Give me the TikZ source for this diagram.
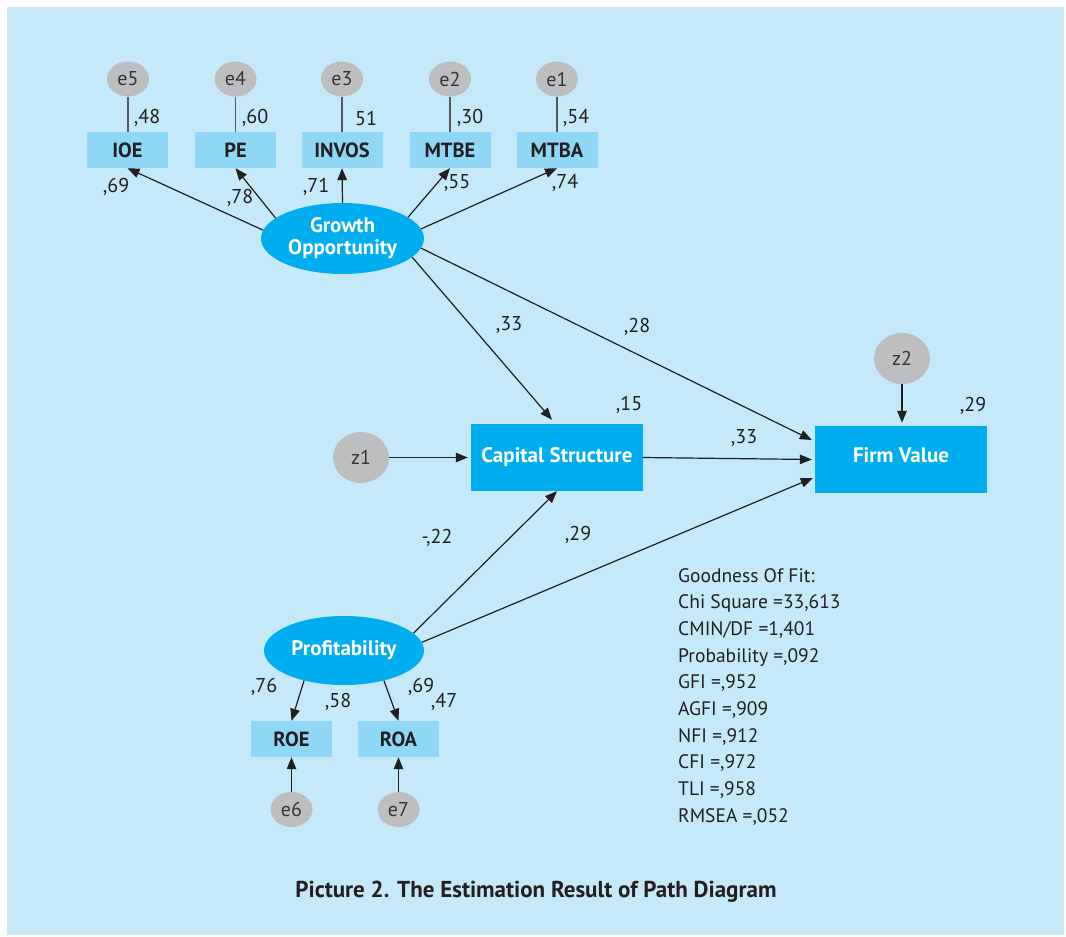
\documentclass[tikz,border=0pt]{standalone}
\usepackage{fontspec}
\setmainfont{PT Sans}
\usetikzlibrary{arrows.meta,calc,shapes.geometric}
\definecolor{panel}{HTML}{C5E9F8}
\definecolor{indc}{HTML}{8ED8F6}
\definecolor{cyanbox}{HTML}{00AEEF}
\definecolor{errgray}{HTML}{BDBEC0}
\definecolor{ink}{HTML}{231F20}
\begin{document}
\begin{tikzpicture}[x=1pt,y=-1pt,
  err/.style={ellipse, fill=errgray, minimum width=42pt, minimum height=35pt, inner sep=0pt, font=\fontsize{20}{22}\selectfont, text=ink!90},
  zerr/.style={err, minimum width=56pt, minimum height=51pt},
  indbox/.style={rectangle, fill=indc, minimum width=81pt, minimum height=36pt, inner sep=0pt, font=\bfseries\fontsize{20.5}{22}\selectfont, text=ink},
  bigbox/.style={rectangle, fill=cyanbox, minimum width=172pt, minimum height=67pt, inner sep=0pt, font=\bfseries\fontsize{21}{22}\selectfont, text=white},
  lat/.style={ellipse, fill=cyanbox, inner sep=0pt, font=\bfseries\fontsize{21}{22}\selectfont, text=white, align=center},
  lbl/.style={font=\fontsize{20}{22}\selectfont, text=ink, inner sep=0pt},
  fitt/.style={font=\fontsize{19.5}{22}\selectfont, text=ink, inner sep=0pt, anchor=base west},
  arr/.style={draw=ink, line width=1.2pt, -{Triangle[length=12pt,width=9.5pt]}},
  ln/.style={draw=ink!75, line width=1.2pt}
]
\useasboundingbox (0,0) rectangle (1066,937);
\fill[white] (0,0) rectangle (1066,937);
\fill[panel] (7,7) rectangle (1064,935);

% error terms top
\node[err] (e5) at (128,79) {e5};
\node[err] (e4) at (235.5,79) {e4};
\node[err] (e3) at (342,79) {e3};
\node[err] (e2) at (450,79) {e2};
\node[err] (e1) at (557,79) {e1};

% indicators top
\node[indbox] (ioe) at (127.5,150) {IOE};
\node[indbox] (pe) at (235.5,150) {PE};
\node[indbox] (invos) at (342,150) {INVOS};
\node[indbox] (mtbe) at (450,150) {MTBE};
\node[indbox] (mtba) at (557,150) {MTBA};

% latent
\node[lat, minimum width=163pt, minimum height=71pt] (go) at (342.5,238.5) {Growth\\Opportunity};
\node[lat, minimum width=160pt, minimum height=69pt] (pr) at (344,650.5) {Profitability};

% endogenous
\node[bigbox] (cs) at (557,457.5) {Capital Structure};
\node[bigbox, text height=15pt, text depth=10pt] (fv) at (901,459.5) {Firm Value};
\node[zerr] (z1) at (361,457.5) {z1};
\node[zerr] (z2) at (902,358.5) {z2};

% indicators bottom
\node[indbox] (roe) at (291.5,739) {ROE};
\node[indbox] (roa) at (398.5,739) {ROA};
\node[err] (e6) at (291.5,809.5) {e6};
\node[err] (e7) at (398.5,809.5) {e7};

% error lines top
\foreach \e/\b in {e5/ioe,e4/pe,e3/invos,e2/mtbe,e1/mtba}
  \draw[ln] (\e.south) -- (\e.south |- \b.north);

% loadings top
\draw[arr] (go.174) -- (ioe.south);
\draw[arr] (go.163) -- (pe.south);
\draw[arr] (go.north) -- (invos.south);
\draw[arr] (go.18) -- (mtbe.south);
\draw[arr] (go.7) -- (mtba.south);

% structural paths
\draw[arr] (go.345) -- ([xshift=-5pt,yshift=4pt]cs.north);
\draw[arr] (go.353) -- ([xshift=-3pt,yshift=19.5pt]fv.west);
\draw[arr, shorten >=3pt] (z1) -- (cs);
\draw[arr, shorten >=3pt] (z2) -- (z2.south |- fv.north);
\draw[arr] (cs.east) -- ([xshift=-3pt]fv.west);
\draw[arr] (pr.14) -- (cs.south);
\draw[arr] (pr.6) -- ([xshift=-2pt,yshift=-18.5pt]fv.west);

% loadings bottom
\draw[arr] (pr.217) -- (roe.north);
\draw[arr] (pr.323) -- (roa.north);
\draw[arr] (e6) -- (roe);
\draw[arr] (e7) -- (roa);

% labels top
\node[lbl] (l48) at (147,118) {,48};
\node[lbl] (l60) at (255,118) {,60};
\node[lbl] (l51) at (366,118) {51};
\node[lbl] (l30) at (470,118) {,30};
\node[lbl] (l54) at (576,118) {,54};
\node[lbl] (l69) at (116,187) {,69};
\node[lbl] (l78) at (240,198) {,78};
\node[lbl] (l71) at (316,187) {,71};
\node[lbl] (l55) at (457,183) {,55};
\node[lbl] (l74) at (565,183) {,74};

% labels middle
\node[lbl] (lgc) at (509,325) {,33};
\node[lbl] (lgf) at (637,327) {,28};
\node[lbl] (lcs) at (629,405) {,15};
\node[lbl] (lfv) at (973,406) {,29};
\node[lbl] (lcf) at (744,438) {,33};
\node[lbl] (lpc) at (437,538) {-,22};
\node[lbl] (lpf) at (578,535) {,29};

% labels bottom
\node[lbl] (l76) at (264,687) {,76};
\node[lbl] (l58) at (338,702) {,58};
\node[lbl] (l69b) at (421,687) {,69};
\node[lbl] (l47) at (444,702) {,47};

% fit statistics
\node[fitt] (f1) at (678,582) {Goodness Of Fit:};
\node[fitt] (f2) at (678,608.7) {Chi Square =33,613};
\node[fitt] (f3) at (678,635.3) {CMIN/DF =1,401};
\node[fitt] (f4) at (678,662) {Probability =,092};
\node[fitt] (f5) at (678,688.7) {GFI =,952};
\node[fitt] (f6) at (678,715.3) {AGFI =,909};
\node[fitt] (f7) at (678,742) {NFI =,912};
\node[fitt] (f8) at (678,768.7) {CFI =,972};
\node[fitt] (f9) at (678,795.3) {TLI =,958};
\node[fitt] (f10) at (678,822) {RMSEA =,052};

% caption
\node[font=\bfseries\fontsize{23}{26}\selectfont, text=ink] (cap) at (536,892) {Picture 2. The Estimation Result of Path Diagram};
\end{tikzpicture}
\end{document}
